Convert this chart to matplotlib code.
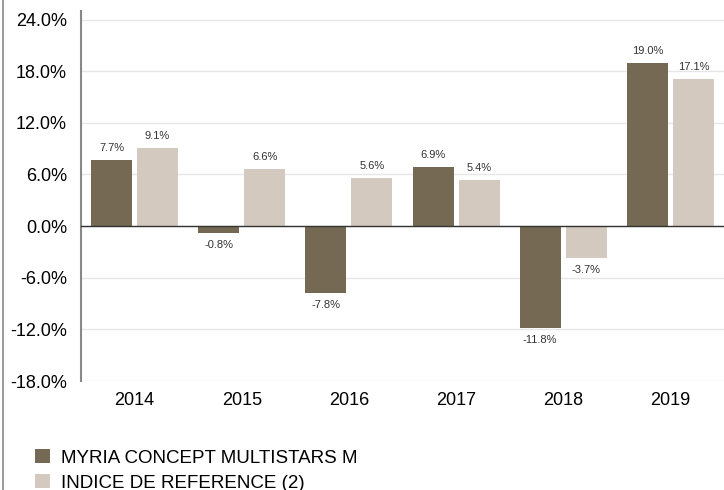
import numpy as np
import matplotlib.pyplot as plt
from matplotlib.lines import Line2D

years = ['2014', '2015', '2016', '2017', '2018', '2019']
fund = [7.7, -0.8, -7.8, 6.9, -11.8, 19.0]
index_ref = [9.1, 6.6, 5.6, 5.4, -3.7, 17.1]
series_names = ['MYRIA CONCEPT MULTISTARS M', 'INDICE DE REFERENCE (2)']
yticks = [-18, -12, -6, 0, 6, 12, 18, 24]

dark = '#756953'
light = '#d3c9bf'

plt.rcParams['font.family'] = ['Liberation Sans', 'DejaVu Sans']

fig = plt.figure(figsize=(7.24, 4.90), dpi=100)
ax = fig.add_axes([81 / 724, 1 - 381 / 490, 1 - 81 / 724, (381 - 11) / 490])

x = np.arange(len(years))
w = 0.383
off = 0.215
b1 = ax.bar(x - off, fund, w, color=dark, label=series_names[0], zorder=3)
b2 = ax.bar(x + off, index_ref, w, color=light, label=series_names[1], zorder=3)

# value labels
for bars in (b1, b2):
    for rect in bars:
        v = rect.get_height()
        cx = rect.get_x() + rect.get_width() / 2
        if v >= 0:
            ax.annotate(f'{v:.1f}%', (cx, v), xytext=(0, 5), textcoords='offset points',
                        ha='center', va='bottom', fontsize=8, color='#333333')
        else:
            ax.annotate(f'{v:.1f}%', (cx, v), xytext=(0, -5), textcoords='offset points',
                        ha='center', va='top', fontsize=8, color='#333333')

ax.set_xlim(-0.5, len(years) - 0.5)
ax.set_ylim(-18, 25)
ax.set_yticks(yticks)
ax.set_yticklabels([f'{t:.1f}%' for t in yticks], fontsize=13)
ax.set_xticks(x)
ax.set_xticklabels(years, fontsize=13)
ax.tick_params(axis='y', length=0, pad=10)
ax.tick_params(axis='x', length=0, pad=8)

ax.grid(axis='y', color='#e6e6e6', linewidth=1, zorder=0)
ax.axhline(0, color='#333333', linewidth=1, zorder=4)
for s in ['top', 'right', 'bottom']:
    ax.spines[s].set_visible(False)
ax.spines['left'].set_color('#888888')
ax.spines['left'].set_linewidth(1.5)

fig.add_artist(Line2D([2.5 / 724, 2.5 / 724], [0, 1], color='#888888', linewidth=1.2))

fig.legend(handles=[b1, b2], loc='upper left', bbox_to_anchor=(35 / 724, 1 - 449 / 490),
           frameon=False, fontsize=13.5, handlelength=0.8, handleheight=0.8,
           handletextpad=0.6, labelspacing=0.38, borderaxespad=0, borderpad=0)

fig.savefig('out.png', dpi=100)
